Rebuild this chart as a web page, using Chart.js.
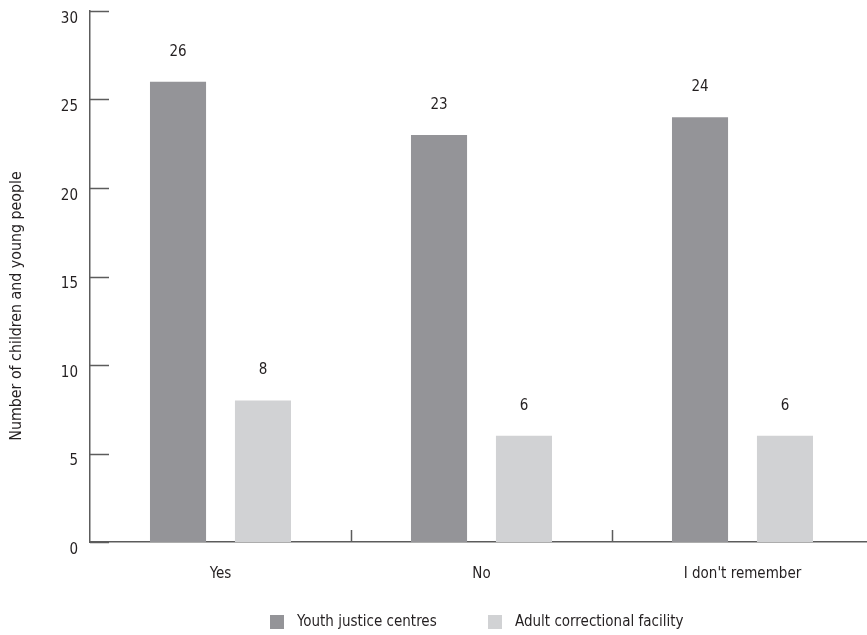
<!DOCTYPE html>
<html>
<head>
<meta charset="utf-8">
<script src="https://cdn.jsdelivr.net/npm/chart.js@4/dist/chart.umd.min.js"></script>
<style>
  html, body { margin: 0; padding: 0; background: #fff; overflow: hidden; }
  #wrap { width: 880px; height: 635px; }
</style>
</head>
<body>
<div id="wrap"><canvas id="c" width="880" height="635"></canvas></div>
<script>
// Survey answers, grouped by where the young person was held
const categories = ["Yes", "No", "I don't remember"];
const youthJusticeCentres = [26, 23, 24];
const adultCorrectionalFacility = [8, 6, 6];
const seriesNames = ["Youth justice centres", "Adult correctional facility"];
const yTicks = [0, 5, 10, 15, 20, 25, 30];
const yTitle = 'Number of children and young people';

const FONT = "'DejaVu Sans Condensed', 'Liberation Sans', sans-serif";
const TEXT = '#231f20';
const AXIS = '#5c5c5c';
const DARK = '#949498';
const LIGHT = '#d1d2d4';

// Short inward ticks on both axes (y at each value, x between categories)
const innerTicks = {
  id: 'innerTicks',
  afterDraw(chart) {
    const { ctx, chartArea: a, scales: { x, y } } = chart;
    ctx.save();
    ctx.strokeStyle = AXIS;
    ctx.lineWidth = 1.5;
    ctx.beginPath();
    yTicks.forEach(v => {
      const py = Math.round(y.getPixelForValue(v)) + 0.5;
      ctx.moveTo(a.left, py);
      ctx.lineTo(a.left + 19, py);
    });
    for (let i = 0; i < categories.length - 1; i++) {
      const px = Math.round((x.getPixelForTick(i) + x.getPixelForTick(i + 1)) / 2) + 0.5;
      ctx.moveTo(px, a.bottom);
      ctx.lineTo(px, a.bottom - 12);
    }
    ctx.stroke();
    ctx.restore();
  }
};

// Value printed above each bar
const barValues = {
  id: 'barValues',
  afterDatasetsDraw(chart) {
    const { ctx } = chart;
    ctx.save();
    ctx.font = '15px ' + FONT;
    ctx.fillStyle = TEXT;
    ctx.textAlign = 'center';
    ctx.textBaseline = 'middle';
    chart.data.datasets.forEach((ds, di) => {
      chart.getDatasetMeta(di).data.forEach((bar, i) => {
        ctx.fillText(String(ds.data[i]), bar.x, bar.y - 30);
      });
    });
    ctx.restore();
  }
};

// Rotated y-axis title, sitting slightly below the middle of the axis
const sideTitle = {
  id: 'sideTitle',
  afterDraw(chart) {
    const { ctx } = chart;
    ctx.save();
    ctx.translate(17, 306);
    ctx.rotate(-Math.PI / 2);
    ctx.font = '15.8px ' + FONT;
    ctx.fillStyle = TEXT;
    ctx.textAlign = 'center';
    ctx.textBaseline = 'middle';
    ctx.fillText(yTitle, 0, 0);
    ctx.restore();
  }
};

// Legend row under the category labels
const bottomLegend = {
  id: 'bottomLegend',
  afterDraw(chart) {
    const { ctx } = chart;
    const xs = [270, 488];
    const cy = 622;
    ctx.save();
    ctx.font = '15px ' + FONT;
    ctx.textBaseline = 'middle';
    ctx.textAlign = 'left';
    chart.data.datasets.forEach((ds, i) => {
      ctx.fillStyle = ds.backgroundColor;
      ctx.fillRect(xs[i], cy - 7, 14, 14);
      ctx.fillStyle = TEXT;
      ctx.fillText(ds.label, xs[i] + 27, cy);
    });
    ctx.restore();
  }
};

new Chart(document.getElementById('c'), {
  type: 'bar',
  data: {
    labels: categories,
    datasets: [
      { label: seriesNames[0], data: youthJusticeCentres, backgroundColor: DARK },
      { label: seriesNames[1], data: adultCorrectionalFacility, backgroundColor: LIGHT }
    ]
  },
  options: {
    responsive: false,
    animation: false,
    devicePixelRatio: 1,
    layout: { padding: { top: 11, right: 7, left: 0, bottom: 0 } },
    categoryPercentage: 0.651,
    barPercentage: 0.66,
    plugins: {
      legend: { display: false },
      tooltip: { enabled: false }
    },
    scales: {
      x: {
        grid: { display: false, drawTicks: false },
        border: { display: true, color: AXIS, width: 1.5 },
        ticks: { color: TEXT, font: { family: FONT, size: 15 }, padding: 23, maxRotation: 0 },
        afterFit(s) { s.height = 93; s.paddingLeft = 0; s.paddingRight = 0; }
      },
      y: {
        min: 0, max: 30,
        grid: { display: false, drawTicks: false },
        border: { display: true, color: AXIS, width: 1.5 },
        ticks: {
          stepSize: 5, color: TEXT, font: { family: FONT, size: 15 }, padding: 12, labelOffset: 8,
          callback: (v) => yTicks.includes(v) ? String(v) : ''
        },
        afterFit(s) { s.width = 90; s.paddingTop = 0; s.paddingBottom = 0; }
      }
    }
  },
  plugins: [innerTicks, barValues, sideTitle, bottomLegend]
});
</script>
</body>
</html>
